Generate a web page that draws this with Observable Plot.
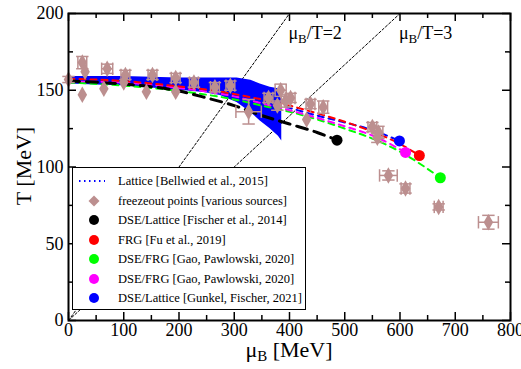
<!DOCTYPE html>
<html><head><meta charset="utf-8">
<script src="https://cdn.jsdelivr.net/npm/d3@7"></script>
<script src="https://cdn.jsdelivr.net/npm/@observablehq/plot@0.6"></script>
<style>
body{margin:0;background:#fff;font-family:"Liberation Serif","Times New Roman",serif;}
#wrap{position:relative;width:521px;height:369px;overflow:hidden;}
#wrap svg{position:absolute;left:0;top:0;}
.legend{position:absolute;left:72px;top:167px;width:234px;height:143px;border:1.5px solid #000;background:#fff;box-sizing:border-box;}
.row{position:absolute;left:0;height:18px;width:100%;font-size:12.5px;line-height:18px;white-space:nowrap;}
.row svg{position:absolute;left:0;top:0;}
.row span{position:absolute;left:45px;top:0;}
.xt{position:absolute;font-size:22px;line-height:14px;left:289px;top:343px;transform:translateX(-50%);white-space:nowrap;}
.yt{position:absolute;font-size:22px;line-height:22px;left:24px;top:166px;transform:translate(-50%,-50%) rotate(-90deg);white-space:nowrap;}
sub{font-size:15px;vertical-align:-4px;line-height:0;}
</style></head><body><div id="wrap"></div>
<script>
// ---- ticks ----
const xMajor = [0,100,200,300,400,500,600,700,800];
const xMinor = [50,150,250,350,450,550,650,750];
const yMajor = [0,50,100,150,200];
const yMinor = [25,75,125,175];

// ---- mu_B/T reference lines ----
const ratios = [2,3];
const ratioLabels = ["μB/T=2","μB/T=3"];
const ratioLabelMu = [398,598];
const ratioLabelT = [187,187];

// ---- Lattice [Bellwied et al., 2015] (dotted) ----
const latticeMu = [0,100,200,300];
const latticeT = [157.5,156.5,153.5,148.5];

// ---- DSE/Lattice [Gunkel, Fischer, 2021] band ----
const bandMu = [0,50,100,150,200,245,275,305,330,347,365,380,386];
const bandLo = [154,153.5,153,151.5,150,148.5,146.5,142,135.5,130,125,120,117];
const bandHi = [159,159,159,158.5,158,158,158,158,156.5,154,152,151,149];

// ---- curves ----
const fischerMu = [0,100,200,250,300,350,400,450,486];
const fischerT  = [156,154,149.5,145,140,133.5,128,122.5,117.5];
const fuMu = [0,100,200,260,300,350,400,450,500,550,600,635];
const fuT  = [157.5,156,152.5,150,147.5,144,140,135,129.5,123,115,107.5];
const gaoGMu = [0,100,200,300,350,400,450,500,550,600,673];
const gaoGT  = [155,153,149.5,144,140,136,131,125,118.5,110,93];
const gaoMMu = [0,100,200,300,350,400,450,500,550,610];
const gaoMT  = [156,155,151.5,146,141.5,137,132,126.5,120.5,109.5];
const gunkelMu = [0,100,200,300,350,400,450,500,550,599];
const gunkelT  = [157,156.5,153,147.5,143,138.5,133.5,129,124,117];

// ---- freezeout points ----
const foMu  = [0,25,25,30,70,64,103,100,152,141,194,194,227,265,293,326,362,378,384,393,402,438,461,431,550,561,559,579,610,670,760];
const foT   = [157,147,168,162,164,151,160,155,160,149,158,149,155,152,153,136,145,140,150,143,145,141,139,131,126,122.5,119,94.5,86,74,64];
const foDMu = [0,0,8,0,10,0,8,0,8,0,8,0,8,8,8,23,8,0,10,8,8,8,8,0,8,8,0,16,8,8,18];
const foDT  = [2,0,4,0,3,0,3,0,3,0,3,0,3,3,3,8,3,3,4,4,3,3,4,0,3,4,3,3,3,2,4.5];

// ---- legend ----
const legendNames = ["Lattice [Bellwied et al., 2015]","freezeout points [various sources]","DSE/Lattice [Fischer et al., 2014]","FRG [Fu et al., 2019]","DSE/FRG [Gao, Pawlowski, 2020]","DSE/FRG [Gao, Pawlowski, 2020]","DSE/Lattice [Gunkel, Fischer, 2021]"];
const legendKinds = ["dots","diamond","circle","circle","circle","circle","circle"];
const legendColors = ["#0000ff","#bc8f8f","#000000","#ff0000","#00ff00","#ff00ff","#0000ff"];

// build tables
const zip = (xs, ys) => xs.map((x,i)=>({mu:x,T:ys[i]}));
const diag = ratios.flatMap(r => [{r,mu:0,T:0},{r,mu:r*200,T:200}]);
const band = bandMu.map((m,i)=>({mu:m,lo:bandLo[i],hi:bandHi[i]}));
const fo = foMu.map((m,i)=>({mu:m,T:foT[i],dm:foDMu[i],dt:foDT[i]}));
const foH = fo.filter(d=>d.dm>0);
const foV = fo.filter(d=>d.dt>0);
const labels = ratioLabels.map((t,i)=>({t,mu:ratioLabelMu[i],T:ratioLabelT[i]}));
const ends = [
  {mu:fischerMu.at(-1),T:fischerT.at(-1),c:"#000000"},
  {mu:gunkelMu.at(-1),T:gunkelT.at(-1),c:"#0000ff"},
  {mu:gaoMMu.at(-1),T:gaoMT.at(-1),c:"#ff00ff"},
  {mu:fuMu.at(-1),T:fuT.at(-1),c:"#ff0000"},
  {mu:gaoGMu.at(-1),T:gaoGT.at(-1),c:"#00ff00"}
];
const capH = {draw(ctx,size){const w=Math.sqrt(size);ctx.moveTo(-w,0);ctx.lineTo(w,0);}};
const capV = {draw(ctx,size){const w=Math.sqrt(size);ctx.moveTo(0,-w);ctx.lineTo(0,w);}};

const W=521,H=369, mT=13, mB=49, mL=68, mR=11;
const pH = H-mT-mB, pW = W-mL-mR;
const brown = "#bc8f8f";

const chart = Plot.plot({
  width:W, height:H,
  marginTop:mT, marginBottom:mB, marginLeft:mL, marginRight:mR,
  style:{fontFamily:'"Liberation Serif","Times New Roman",serif', fontSize:"18px", color:"#000", background:"#fff", overflow:"visible"},
  x:{domain:[0,800]},
  y:{domain:[0,200]},
  marks:[
    Plot.line(diag,{x:"mu",y:"T",z:"r",stroke:"#000",strokeWidth:1,strokeDasharray:"2.5,2"}),
    Plot.text(labels,{x:"mu",y:"T",text:"t",textAnchor:"start",fontSize:18,fill:"#000"}),
    Plot.line(zip(latticeMu,latticeT),{x:"mu",y:"T",stroke:"#0000ff",strokeWidth:2,strokeDasharray:"1.5,3.5",curve:"monotone-x"}),
    Plot.areaY(band,{x:"mu",y1:"lo",y2:"hi",fill:"#0000ff",curve:"linear"}),
    Plot.line(zip(gaoGMu,gaoGT),{x:"mu",y:"T",stroke:"#00ff00",strokeWidth:2,strokeDasharray:"6,5",curve:"monotone-x"}),
    Plot.line(zip(gaoMMu,gaoMT),{x:"mu",y:"T",stroke:"#ff00ff",strokeWidth:2,strokeDasharray:"6,5",curve:"monotone-x"}),
    Plot.line(zip(gunkelMu,gunkelT),{x:"mu",y:"T",stroke:"#0000ff",strokeWidth:2,strokeDasharray:"6,5",curve:"monotone-x"}),
    Plot.line(zip(fuMu,fuT),{x:"mu",y:"T",stroke:"#ff0000",strokeWidth:2,strokeDasharray:"6,5",curve:"monotone-x"}),
    Plot.line(zip(fischerMu,fischerT),{x:"mu",y:"T",stroke:"#000",strokeWidth:3,strokeDasharray:"11,7",curve:"monotone-x"}),
    // freezeout error bars
    Plot.link(foH,{x1:d=>d.mu-d.dm,x2:d=>d.mu+d.dm,y1:"T",y2:"T",stroke:brown,strokeWidth:1.5}),
    Plot.link(foV,{x1:"mu",x2:"mu",y1:d=>d.T-d.dt,y2:d=>d.T+d.dt,stroke:brown,strokeWidth:1.5}),
    Plot.dot(foH,{x:d=>d.mu-d.dm,y:"T",symbol:capV,r:3.5,stroke:brown,strokeWidth:1.5}),
    Plot.dot(foH,{x:d=>d.mu+d.dm,y:"T",symbol:capV,r:3.5,stroke:brown,strokeWidth:1.5}),
    Plot.dot(foV,{x:"mu",y:d=>d.T-d.dt,symbol:capH,r:3.5,stroke:brown,strokeWidth:1.5}),
    Plot.dot(foV,{x:"mu",y:d=>d.T+d.dt,symbol:capH,r:3.5,stroke:brown,strokeWidth:1.5}),
    Plot.dot(fo,{x:"mu",y:"T",symbol:"diamond",r:5,fill:brown,stroke:"none"}),
    Plot.dot(ends,{x:"mu",y:"T",r:5.5,fill:"c",stroke:"none"}),
    // ticks (inward) on all four sides
    Plot.tickX(xMajor,{x:d=>d,insetTop:pH-8,stroke:"#000",strokeWidth:1.5}),
    Plot.tickX(xMinor,{x:d=>d,insetTop:pH-5,stroke:"#000",strokeWidth:1.5}),
    Plot.tickX(xMajor,{x:d=>d,insetBottom:pH-8,stroke:"#000",strokeWidth:1.5}),
    Plot.tickX(xMinor,{x:d=>d,insetBottom:pH-5,stroke:"#000",strokeWidth:1.5}),
    Plot.tickY(yMajor,{y:d=>d,insetRight:pW-8,stroke:"#000",strokeWidth:1.5}),
    Plot.tickY(yMinor,{y:d=>d,insetRight:pW-5,stroke:"#000",strokeWidth:1.5}),
    Plot.tickY(yMajor,{y:d=>d,insetLeft:pW-8,stroke:"#000",strokeWidth:1.5}),
    Plot.tickY(yMinor,{y:d=>d,insetLeft:pW-5,stroke:"#000",strokeWidth:1.5}),
    Plot.axisX({ticks:xMajor,tickSize:0,tickPadding:3,tickFormat:d=>String(d),label:null,fontSize:18}),
    Plot.axisY({ticks:yMajor,tickSize:0,tickPadding:5,tickFormat:d=>String(d),label:null,fontSize:18}),
    Plot.frame({stroke:"#000",strokeWidth:2})
  ]
});

// subscripts in the ratio labels
d3.select(chart).selectAll("text").each(function(){
  const s = this.textContent;
  if (s.startsWith("μB/")) {
    const el = d3.select(this);
    el.text(null);
    el.append("tspan").text("μ");
    el.append("tspan").attr("font-size",13).attr("dy","4").text("B");
    el.append("tspan").attr("dy","-4").text(s.slice(2));
  }
});

const wrap = document.getElementById("wrap");
wrap.appendChild(chart);

// axis titles
const xt = document.createElement("div"); xt.className="xt"; xt.innerHTML="μ<sub>B</sub> [MeV]"; wrap.appendChild(xt);
const yt = document.createElement("div"); yt.className="yt"; yt.textContent="T [MeV]"; wrap.appendChild(yt);

// legend
const lg = document.createElement("div"); lg.className="legend"; wrap.appendChild(lg);
legendNames.forEach((name,i)=>{
  const row = document.createElement("div"); row.className="row";
  row.style.top = (4 + i*19.5) + "px";
  const c = legendColors[i];
  let sym = "";
  if (legendKinds[i]==="dots") sym = `<line x1="6" x2="32" y1="9" y2="9" stroke="${c}" stroke-width="2" stroke-dasharray="1.5,3.5"/>`;
  else if (legendKinds[i]==="diamond") sym = `<path d="M21,3.5L26.5,9L21,14.5L15.5,9Z" fill="${c}"/>`;
  else sym = `<circle cx="21" cy="9" r="5" fill="${c}"/>`;
  row.innerHTML = `<svg width="40" height="18">${sym}</svg><span>${name}</span>`;
  lg.appendChild(row);
});
</script></body></html>
